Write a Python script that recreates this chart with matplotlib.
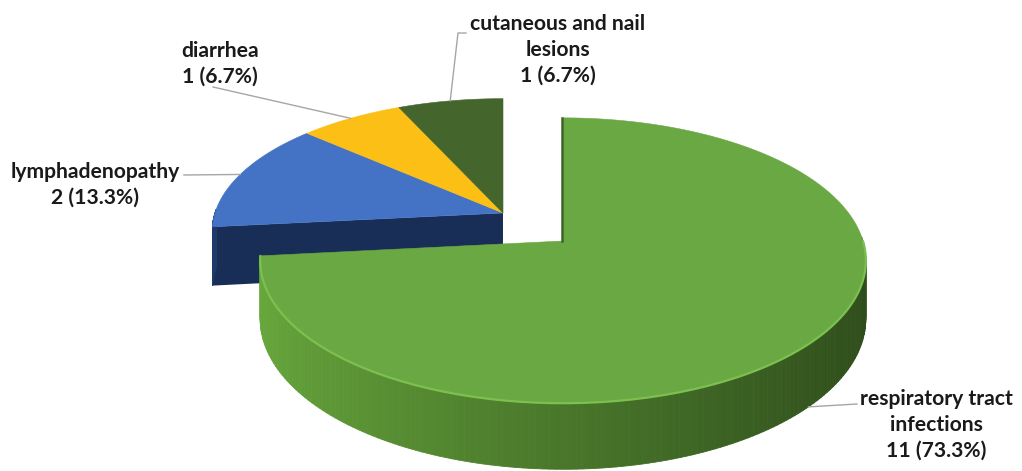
import numpy as np
import matplotlib
matplotlib.use("Agg")
import matplotlib.pyplot as plt
from matplotlib.collections import PolyCollection
from matplotlib.colors import to_rgb

# ---------------- data ----------------
categories = ["respiratory tract\ninfections", "lymphadenopathy", "diarrhea",
              "cutaneous and nail\nlesions"]
counts = [11, 2, 1, 1]
exploded = [True, False, False, False]

# ---------------- style ----------------
top_colors = ["#6AA843", "#4472C4", "#FBBF16", "#44662C"]
side_light = ["#68A83C", "#1E3A6A", "#C89A10", "#3A5A26"]
side_dark = ["#2E4C1B", "#182E56", "#9A7508", "#2A421B"]

total = sum(counts)
pcts = [100.0 * c / total for c in counts]
cum = np.concatenate([[0], np.cumsum(counts)])
start_ang = 90 - 360.0 * cum[:-1] / total   # clockwise from 12 o'clock
end_ang = 90 - 360.0 * cum[1:] / total

# perspective layout (pixel space)
K = 0.137
GROUPS = {True: dict(cx=563, cy=241, rx=300, ry=140, depth=57),
          False: dict(cx=503, cy=213, rx=288, ry=130, depth=58)}


def proj(theta_deg, g, r=1.0, down=0.0):
    t = np.radians(theta_deg)
    u = r * np.cos(t)
    v = r * np.sin(t)
    w = 1.0 / (1.0 + K * v)
    X = g["cx"] + g["rx"] * u * w
    Y = g["cy"] - g["ry"] * v * w + g["depth"] * w * down
    return X, Y


fig = plt.figure(figsize=(10.22, 4.71), dpi=100)
ax = fig.add_axes([0, 0, 1, 1])
ax.set_xlim(0, 1022)
ax.set_ylim(471, 0)
ax.axis("off")

z = 1
for grp in (False, True):
    g = GROUPS[grp]
    idx = [i for i in range(len(counts)) if exploded[i] == grp]
    s = max(start_ang[i] for i in idx)
    e = min(end_ang[i] for i in idx)
    # radial cut faces
    for ang, normal, sl in ((s, s + 90, [i for i in idx if start_ang[i] == s][0]),
                            (e, e - 90, [i for i in idx if end_ang[i] == e][0])):
        if np.sin(np.radians(normal)) < -0.05:
            x0, y0 = proj(ang, g, r=0.0)
            x1, y1 = proj(ang, g, r=1.0)
            x2, y2 = proj(ang, g, r=1.0, down=1.0)
            x3, y3 = proj(ang, g, r=0.0, down=1.0)
            ax.fill([x0, x1, x2, x3], [y0, y1, y2, y3], color=side_dark[sl],
                    lw=0, zorder=z)
    z += 1
    # outer walls
    for i in idx:
        a = np.linspace(start_ang[i], end_ang[i], 240)
        polys, cols = [], []
        for a0, a1 in zip(a[:-1], a[1:]):
            if np.sin(np.radians(0.5 * (a0 + a1))) > 0.03:
                continue
            xa, ya = proj(a0, g)
            xb, yb = proj(a1, g)
            xc, yc = proj(a1, g, down=1.0)
            xd, yd = proj(a0, g, down=1.0)
            polys.append([(xa, ya), (xb, yb), (xc, yc), (xd, yd)])
            t = (np.cos(np.radians(0.5 * (a0 + a1))) + 1) / 2
            t = t ** 0.9
            c = (1 - t) * np.array(to_rgb(side_light[i])) + t * np.array(to_rgb(side_dark[i]))
            cols.append(c)
        if polys:
            ax.add_collection(PolyCollection(polys, facecolors=cols,
                                             edgecolors=cols, linewidths=0.6,
                                             zorder=z))
    z += 1
    # top faces
    for i in idx:
        a = np.linspace(start_ang[i], end_ang[i], 200)
        xs, ys = proj(a, g)
        x0, y0 = proj(start_ang[i], g, r=0.0)
        ax.fill(np.r_[x0, xs], np.r_[y0, ys], color=top_colors[i], lw=0.4,
                ec=top_colors[i], zorder=z)
        if grp:
            # highlight rim along the front arc
            front = a[np.sin(np.radians(a)) < 0]
            hx, hy = proj(front, g)
            ax.plot(hx, hy, color="#7CC04F", lw=1.6, zorder=z + 0.5,
                    solid_capstyle="round")
            # thin dark edge along the 12 o'clock cut
            tx, ty = proj(np.array([start_ang[i], start_ang[i]]), g,
                          r=np.array([0.0, 1.0]))
            ax.plot(tx - 1.5, ty, color="#3E6326", lw=1.8, zorder=z + 0.5)
    z += 1

# ---------------- labels & leaders ----------------
label_pos = [(936, 425), (95, 185), (220, 64), (558, 50)]
leader_start = [[(857, 404)], [(184, 175)], [(213, 87)], [(466, 33), (458, 33)]]

for i in range(len(counts)):
    g = GROUPS[exploded[i]]
    mid = 0.5 * (start_ang[i] + end_ang[i])
    front = np.sin(np.radians(mid)) < 0
    px, py = proj(mid, g, down=1.0 if front else 0.0)
    pts = leader_start[i] + [(px, py)]
    ax.plot([p[0] for p in pts], [p[1] for p in pts], color="#A6A6A6",
            lw=1.0, zorder=z)
    txt = f"{categories[i]}\n{counts[i]} ({pcts[i]:.1f}%)"
    ax.text(label_pos[i][0], label_pos[i][1], txt, ha="center", va="center",
            multialignment="center", fontsize=15.2, fontweight="bold",
            family=["Lato", "DejaVu Sans"], color="#1A1A1A", linespacing=1.36,
            zorder=z + 1)

fig.savefig("out.png", dpi=100)
